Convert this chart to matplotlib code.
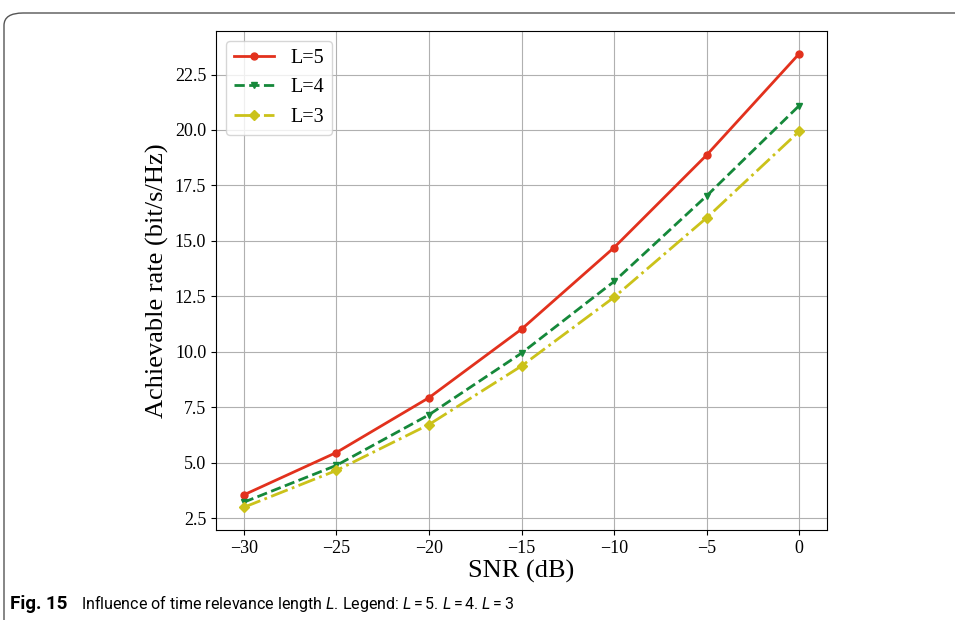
import numpy as np
import matplotlib
matplotlib.use("Agg")
import matplotlib.pyplot as plt
from matplotlib.patches import FancyBboxPatch

snr = [-30, -25, -20, -15, -10, -5, 0]
rate_l5 = [3.55, 5.46, 7.93, 11.02, 14.70, 18.87, 23.44]
rate_l4 = [3.22, 4.88, 7.16, 9.94, 13.17, 17.03, 21.10]
rate_l3 = [2.99, 4.65, 6.72, 9.36, 12.46, 16.04, 19.94]
xticks = [-30, -25, -20, -15, -10, -5, 0]
yticks = [2.5, 5.0, 7.5, 10.0, 12.5, 15.0, 17.5, 20.0, 22.5]

plt.rcParams['font.family'] = ['Liberation Serif', 'DejaVu Serif']
plt.rcParams['mathtext.fontset'] = 'custom'
plt.rcParams['mathtext.rm'] = 'Roboto'
plt.rcParams['mathtext.it'] = 'Roboto:italic'

fig = plt.figure(figsize=(9.55, 6.2), dpi=100)

# card frame round the figure
card = FancyBboxPatch((4 / 955, -0.05), 1.2, (620 - 13) / 620 + 0.05,
                      boxstyle="round,pad=0,rounding_size=0.02",
                      transform=fig.transFigure, facecolor='none',
                      edgecolor='#555555', linewidth=1.0)
fig.patches.append(card)

ax = fig.add_axes([216 / 955, 90 / 620, 611 / 955, 499 / 620])
ax.plot(snr, rate_l5, color='#e2311d', linestyle='-', marker='o', markersize=5, linewidth=2, label='L=5')
ax.plot(snr, rate_l4, color='#15883a', linestyle='--', marker='v', markersize=5, linewidth=2, label='L=4')
ax.plot(snr, rate_l3, color='#cbc21a', linestyle='-.', marker='D', markersize=5, linewidth=2, label='L=3')

ax.set_xticks(xticks)
ax.set_yticks(yticks)
ax.tick_params(labelsize=13)
ax.grid(True, color='#b0b0b0', linewidth=0.8)
ax.set_xlabel('SNR (dB)', fontsize=19, labelpad=2)
ax.set_ylabel('Achievable rate (bit/s/Hz)', fontsize=19)
ax.legend(loc='upper left', fontsize=14.5)

fig.text(10 / 955, 1 - 604 / 620, 'Fig. 15', family=['Roboto', 'DejaVu Sans'],
         fontweight='bold', fontsize=13.5, va='center')
fig.text(81 / 955, 1 - 604 / 620,
         r'Influence of time relevance length $\mathit{L}$. Legend: $L=5$. $L=4$. $L=3$',
         family=['Roboto', 'DejaVu Sans'], fontsize=11.5, va='center')

fig.savefig('out.png', dpi=100)
